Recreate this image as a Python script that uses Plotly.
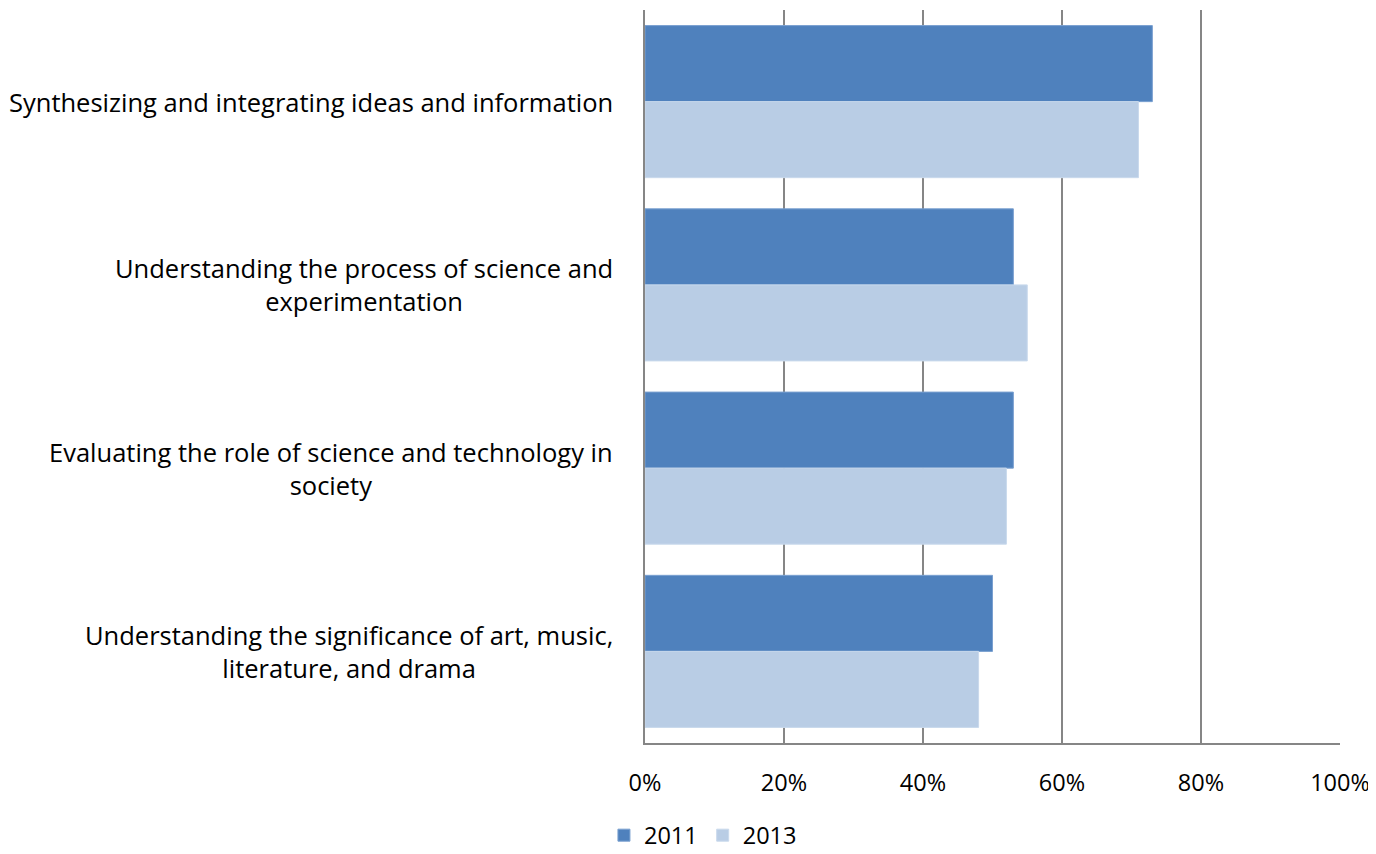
import plotly.graph_objects as go

categories = [
    "Synthesizing and integrating ideas and information",
    "Understanding the process of science and<br>experimentation",
    "Evaluating the role of science and technology in<br>society",
    "Understanding the significance of art, music,<br>literature, and drama",
]
values_2011 = [73, 53, 53, 50]
values_2013 = [71, 55, 52, 48]
x_ticks = [0, 20, 40, 60, 80, 100]
x_tick_labels = ["0%", "20%", "40%", "60%", "80%", "100%"]

FONT = "Open Sans, sans-serif"
FS = 25.5

fig = go.Figure()
fig.add_trace(go.Bar(
    y=categories, x=values_2011, name="2011", orientation="h",
    marker=dict(color="#4F81BD", line=dict(color="#7AA0D0", width=1)),
))
fig.add_trace(go.Bar(
    y=categories, x=values_2013, name="2013", orientation="h",
    marker=dict(color="#B9CDE5", line=dict(color="#C9D9EC", width=1)),
))

# category labels, each line centred like the original
for cat in categories:
    fig.add_annotation(
        x=0, xref="paper", xshift=-30, xanchor="right",
        y=cat, yref="y", yanchor="middle",
        text=cat, align="center", showarrow=False,
        font=dict(family=FONT, size=FS, color="black"),
    )

# page body has an 8px margin, so the figure is shifted by 8px
fig.update_layout(
    width=1368, height=846,
    barmode="group", bargap=0.17, bargroupgap=0,
    plot_bgcolor="white", paper_bgcolor="white",
    margin=dict(l=637, r=36, t=2, b=111),
    font=dict(family=FONT, size=FS, color="black"),
    xaxis=dict(
        range=[0, 100], tickvals=x_ticks, ticktext=x_tick_labels,
        tickfont=dict(size=23.5),
        showgrid=True, gridcolor="#868686", gridwidth=1.5,
        showline=True, linecolor="#868686", linewidth=1.5,
        ticks="outside", ticklen=18, tickcolor="rgba(0,0,0,0)",
        zeroline=False,
    ),
    yaxis=dict(
        autorange="reversed", showticklabels=False,
        showline=True, linecolor="#868686", linewidth=1.5,
        showgrid=False,
    ),
    legend=dict(
        orientation="h", xref="container", yref="container",
        x=0.508, xanchor="center", y=0.022, yanchor="middle",
        font=dict(family=FONT, size=23.5), itemwidth=30,
    ),
)

fig.write_html("out.html")
